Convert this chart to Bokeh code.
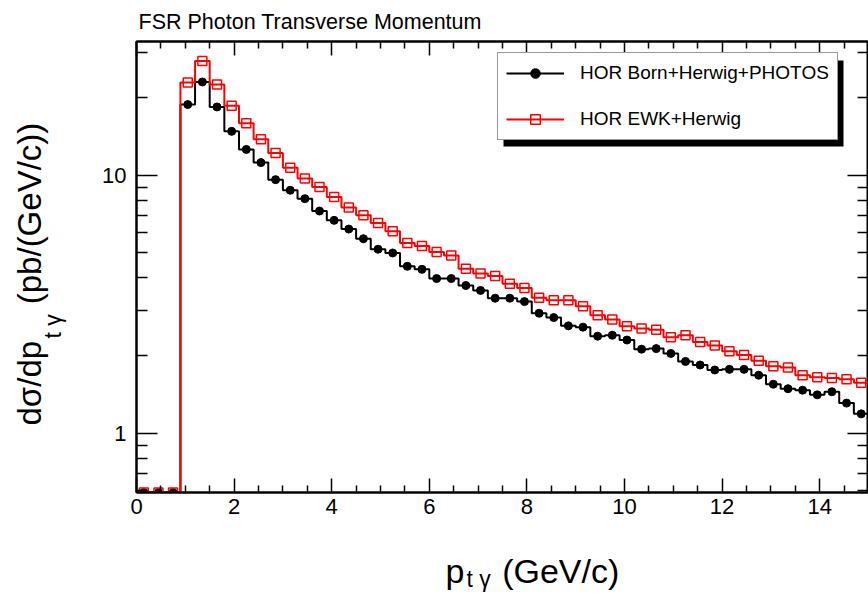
import numpy as np
from bokeh.plotting import figure
from bokeh.models import (Label, Legend, LegendItem, FixedTicker, LinearAxis,
                          LogAxis, BoxAnnotation)
from bokeh.embed import file_html
from bokeh.resources import INLINE

# ---------------- data ----------------
x_lo, x_hi, n_bins = 0.0, 15.0, 50

born_photos = [0, 0, 0, 18.8, 23.0, 18.4, 14.8, 12.6, 11.2, 9.62,
               8.75, 8.12, 7.27, 6.69, 6.19, 5.68, 5.17, 5.00, 4.44, 4.32,
               3.98, 3.98, 3.74, 3.58, 3.34, 3.34, 3.24, 2.92, 2.81, 2.61,
               2.58, 2.38, 2.40, 2.30, 2.12, 2.13, 2.04, 1.90, 1.84, 1.76,
               1.77, 1.77, 1.68, 1.55, 1.49, 1.47, 1.41, 1.45, 1.31, 1.19]

ewk_herwig = [0, 0, 0, 22.9, 27.7, 22.5, 18.6, 15.9, 13.8, 12.2,
              10.7, 9.71, 9.01, 8.24, 7.50, 7.00, 6.53, 6.07, 5.47, 5.32,
              5.04, 4.89, 4.34, 4.16, 4.07, 3.80, 3.66, 3.35, 3.28, 3.28,
              3.11, 2.87, 2.76, 2.60, 2.55, 2.52, 2.36, 2.40, 2.26, 2.19,
              2.08, 2.01, 1.91, 1.82, 1.80, 1.68, 1.65, 1.64, 1.62, 1.57]

series_labels = ["HOR Born+Herwig+PHOTOS", "HOR EWK+Herwig"]

x_major_ticks = [0, 2, 4, 6, 8, 10, 12, 14]
x_minor_ticks = [0.5, 1, 1.5, 2.5, 3, 3.5, 4.5, 5, 5.5, 6.5, 7, 7.5, 8.5, 9, 9.5,
                 10.5, 11, 11.5, 12.5, 13, 13.5, 14.5]
y_major_ticks = [1, 10]
y_minor_ticks = [0.6, 0.7, 0.8, 0.9, 2, 3, 4, 5, 6, 7, 8, 9, 20, 30]
y_min, y_max = 0.59, 33.0

FONT = "Liberation Sans"
NB = "\u00a0"

# ---------------- figure ----------------
p = figure(width=868, height=594, x_range=(x_lo, x_hi), y_range=(y_min, y_max),
           y_axis_type="log", output_backend="svg", toolbar_location=None,
           title=None, min_border_left=136, min_border_right=0,
           min_border_top=41, min_border_bottom=102)
p.background_fill_color = "white"
p.border_fill_color = "white"
p.outline_line_color = "black"
p.outline_line_width = 2
p.xgrid.visible = False
p.ygrid.visible = False

edges = np.linspace(x_lo, x_hi, n_bins + 1)
centers = 0.5 * (edges[:-1] + edges[1:])

def shown(vals):
    v = np.asarray(vals, dtype=float)
    return np.where(v > 0, v, y_min)

b = shown(born_photos)
r = shown(ewk_herwig)

b_line = p.step(x=edges, y=np.append(b, b[-1]), mode="after",
                line_color="black", line_width=2)
b_pts = p.scatter(x=centers, y=b, marker="circle", size=8,
                  fill_color="black", line_color="black")
r_line = p.step(x=edges, y=np.append(r, r[-1]), mode="after",
                line_color="red", line_width=2)
r_pts = p.scatter(x=centers, y=r, marker="square", size=9,
                  fill_color=None, line_color="red", line_width=1.5)

# ---------------- axes ----------------
xt = FixedTicker(ticks=x_major_ticks, minor_ticks=x_minor_ticks)
yt = FixedTicker(ticks=y_major_ticks, minor_ticks=y_minor_ticks)

def style(ax, major_in, minor_in, show_labels=True, ticks=()):
    ax.major_tick_in = major_in
    ax.major_tick_out = 0
    ax.minor_tick_in = minor_in
    ax.minor_tick_out = 0
    ax.major_tick_line_color = "black"
    ax.minor_tick_line_color = "black"
    ax.major_tick_line_width = 1.5
    ax.minor_tick_line_width = 1.5
    ax.axis_line_color = "black"
    ax.axis_line_width = 2
    ax.axis_label = None
    ax.major_label_text_font = FONT
    ax.major_label_text_color = "black"
    ax.major_label_text_font_size = "22px"
    if not show_labels:
        ax.major_label_standoff = 0
        ax.major_label_text_font_size = "1px"
        ax.major_label_overrides = {t: "" for t in ticks}

p.xaxis.ticker = xt
p.yaxis.ticker = yt
style(p.xaxis[0], 14, 7)
style(p.yaxis[0], 21, 11)
p.xaxis.major_label_standoff = 6
p.yaxis.major_label_standoff = 10
p.yaxis.major_label_overrides = {1: "1", 10: "10"}

top_ax = LinearAxis(ticker=xt)
style(top_ax, 14, 7, show_labels=False, ticks=x_major_ticks)
p.add_layout(top_ax, "above")
right_ax = LogAxis(ticker=yt)
style(right_ax, 21, 11, show_labels=False, ticks=y_major_ticks)
p.add_layout(right_ax, "right")

# ---------------- legend ----------------
shadow = BoxAnnotation(left=367, right=707, top=432, bottom=346,
                       left_units="screen", right_units="screen",
                       top_units="screen", bottom_units="screen",
                       fill_color="black", fill_alpha=1.0, line_color=None)
p.add_layout(shadow)

legend = Legend(items=[LegendItem(label=series_labels[0], renderers=[b_line, b_pts]),
                       LegendItem(label=series_labels[1], renderers=[r_line, r_pts])],
                location=(361, 352), orientation="vertical",
                label_text_font=FONT, label_text_font_size="19px",
                label_text_color="black", glyph_width=58, glyph_height=24,
                label_height=24, spacing=22, padding=8, label_standoff=16,
                border_line_color="#333333", border_line_width=1,
                background_fill_color="white", background_fill_alpha=1.0,
                margin=0)
p.add_layout(legend, "center")

# ---------------- texts (in side panels, so they are not clipped) ----------------
def lab(x, y, text, size, angle=0.0):
    return Label(x=x, y=y, x_units="screen", y_units="screen", text=text,
                 text_font=FONT, text_font_size=size, text_color="black",
                 text_align="left", text_baseline="alphabetic", angle=angle)

p.add_layout(lab(2, 20, "FSR Photon Transverse Momentum", "21.5px"), "above")
# x title
p.add_layout(lab(309, -16, "p" + NB * 4 + "(GeV/c)", "34px"), "below")
p.add_layout(lab(330, 2, "t γ", "23px"), "below")
# y title
p.add_layout(lab(-33, 67, "dσ/dp" + NB * 4 + "(pb/(GeV/c))", "33px", np.pi / 2), "left")
p.add_layout(lab(16, 154, "t γ", "23px", np.pi / 2), "left")

open("out.html", "w").write(file_html(p, INLINE))
